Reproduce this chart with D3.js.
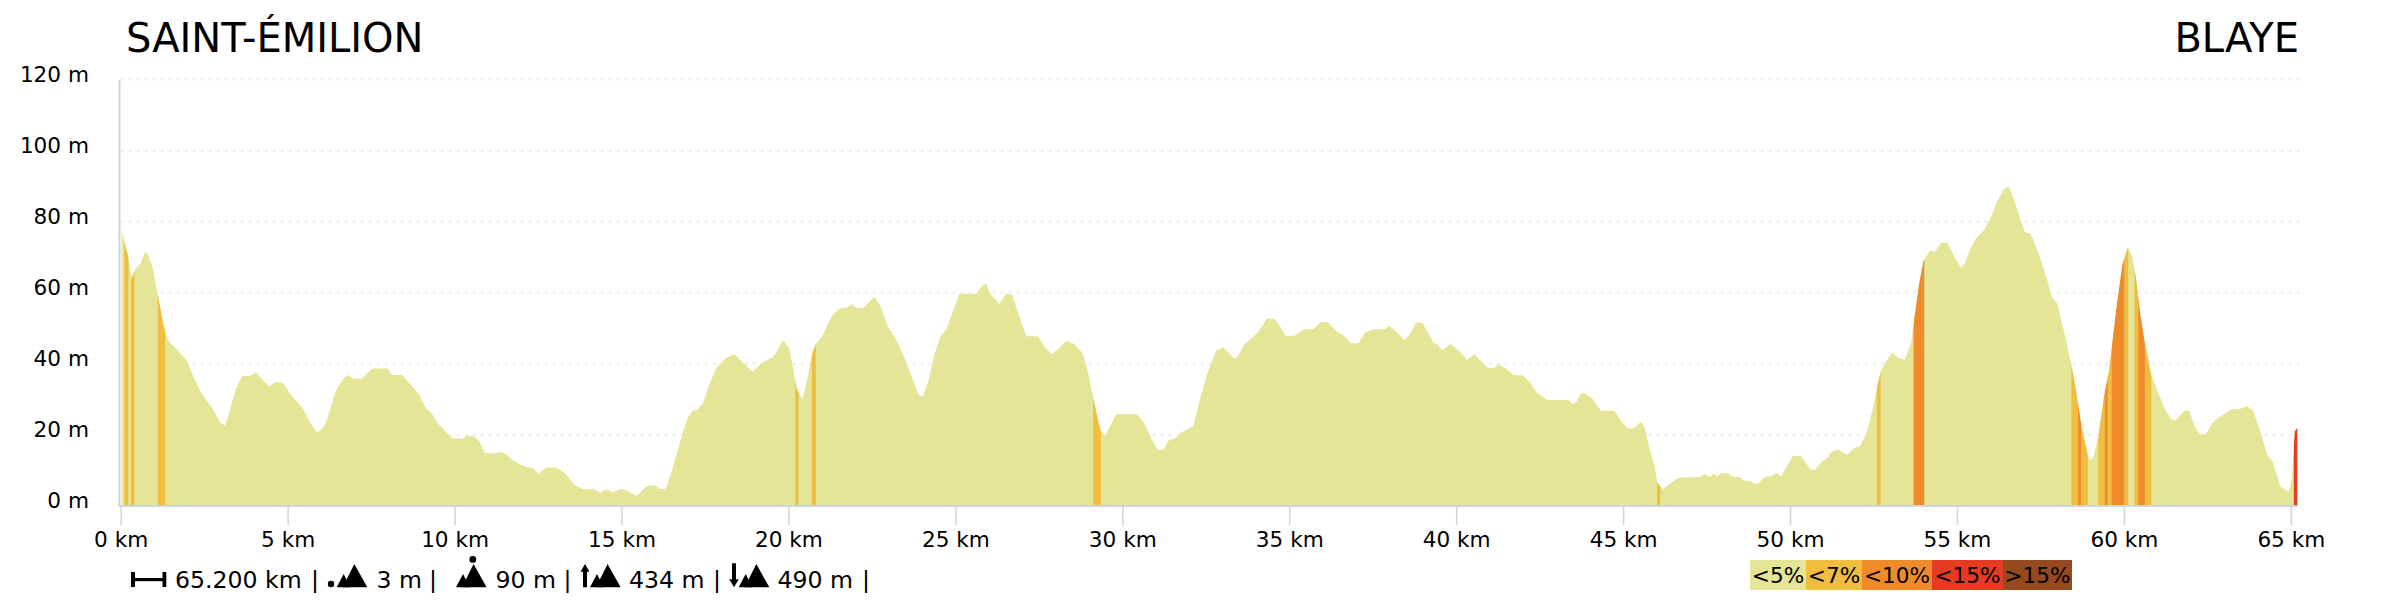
<!DOCTYPE html>
<html>
<head>
<meta charset="utf-8">
<script src="https://d3js.org/d3.v7.min.js"></script>
<style>
	html, body { margin: 0; padding: 0; background: #fff; }
	svg { display: block; font-family: "DejaVu Sans", sans-serif; }
</style>
</head>
<body>
<svg id="profile" width="2400" height="600"></svg>
<script>
var startName = 'SAINT-ÉMILION'
var endName = 'BLAYE'

var kms = [
	0.03,0.16,0.23,0.33,0.40,0.50,0.58,0.73,0.83,0.96,1.13,1.28,1.41,1.58,1.78,1.98,2.18,2.43,2.73,2.98,
	3.13,3.28,3.43,3.63,3.88,4.05,4.28,4.46,4.63,4.86,5.08,5.46,5.68,5.88,6.03,6.15,6.43,6.58,6.78,6.98,
	7.23,7.53,7.98,8.13,8.43,8.93,9.13,9.33,9.48,9.93,10.28,10.33,10.58,10.75,10.90,11.23,11.36,11.53,11.76,12.05,
	12.37,12.51,12.74,13.02,13.29,13.60,13.83,14.17,14.36,14.55,14.74,14.94,15.09,15.26,15.46,15.77,16.00,16.15,16.31,16.46,
	16.63,16.84,16.98,17.13,17.26,17.44,17.61,17.84,18.12,18.38,18.64,18.93,19.21,19.56,19.84,20.02,20.13,20.25,20.33,20.42,
	20.59,20.70,20.82,21.01,21.16,21.33,21.54,21.74,21.89,22.05,22.25,22.57,22.77,22.96,23.23,23.46,23.69,23.91,24.03,24.20,
	24.37,24.55,24.72,24.95,25.12,25.63,25.75,25.92,26.04,26.32,26.52,26.70,26.90,27.12,27.47,27.70,27.89,28.10,28.33,28.56,
	28.81,28.96,29.13,29.34,29.48,29.63,29.82,30.43,30.66,30.89,31.06,31.23,31.40,31.58,31.75,31.92,32.13,32.32,32.53,32.81,
	33.01,33.18,33.35,33.44,33.64,34.04,34.33,34.56,34.73,34.90,35.16,35.42,35.74,35.93,36.16,36.45,36.62,36.85,37.08,37.25,
	37.48,37.88,38.00,38.23,38.46,38.63,38.80,39.00,39.32,39.43,39.58,39.83,40.12,40.32,40.54,40.94,41.15,41.26,41.49,41.72,
	42.01,42.24,42.41,42.73,43.35,43.50,43.61,43.73,43.84,44.07,44.34,44.74,44.93,45.14,45.33,45.53,45.64,45.79,45.94,46.03,
	46.11,46.19,46.42,46.65,47.31,47.44,47.60,47.71,47.82,47.95,48.14,48.27,48.51,48.61,48.81,48.94,49.05,49.25,49.42,49.58,
	49.74,49.92,50.08,50.32,50.49,50.63,50.75,50.95,51.12,51.23,51.43,51.72,51.92,52.10,52.28,52.46,52.62,52.73,52.86,53.06,
	53.26,53.44,53.62,53.73,53.86,54.00,54.20,54.33,54.53,54.71,54.93,55.11,55.23,55.40,55.58,55.80,56.00,56.20,56.40,56.54,
	56.70,57.03,57.21,57.41,57.68,57.84,58.01,58.21,58.41,58.54,58.74,58.92,58.97,59.08,59.24,59.41,59.55,59.75,59.95,60.12,
	60.24,60.35,60.48,60.64,60.82,61.02,61.22,61.42,61.55,61.82,61.95,62.15,62.29,62.45,62.69,63.02,63.23,63.49,63.69,63.87,
	64.09,64.30,64.46,64.70,64.94,65.03,65.12,65.20
]
var elevations = [
	77.8,72.4,70,63.8,66,67.5,68,71.6,70.5,67,58.4,50.9,46.8,45,43,41,36.3,31.5,27.7,23.4,
	22.6,27.2,32.5,36.6,36.6,37.6,35.2,33.6,34.9,34.7,31.5,27.4,23.4,20.7,21.6,23.4,32,34.7,36.9,35.8,
	35.8,38.7,38.7,36.9,36.9,31.5,27.7,25.9,23.4,19,19,19.8,19.6,18,15,14.8,15.3,14.6,12.8,11.3,
	10.6,9,10.8,10.8,9.4,5.9,4.8,4.7,3.8,4.7,3.8,4.7,4.7,3.9,2.9,5.7,5.8,4.8,4.8,8.3,
	13.9,20.9,24.7,26.8,27,28.9,33.6,38.9,41.6,42.8,40.3,37.8,40.3,42,46.7,44.4,39.2,33.1,31.7,29.8,
	36.9,42.5,45.6,47.7,50.9,53.8,55.6,55.9,56.8,55.8,55.8,58.9,56.1,50.9,46.7,42,36.4,31.2,30.8,35.5,
	42.5,47.7,49.5,55.2,59.7,59.7,61.5,62.7,59.8,56.8,59.7,59.4,53.8,47.8,47.8,44.4,42.8,44.4,46.5,45.6,
	43,38.3,30.3,21.4,19.7,22.3,25.9,25.9,23.3,18.6,15.8,15.8,18.6,19,20.7,21.4,22.6,29.8,36.9,43.7,
	44.6,43.2,41.6,41.8,45.3,48.6,52.7,52.7,50.5,47.8,47.9,49.7,49.8,51.7,51.7,48.9,48.1,45.8,45.8,48.6,
	49.7,49.8,50.7,48.8,46.7,48.6,51.7,51.4,46,45.6,43.9,45.5,43.4,41.1,42.7,38.9,38.9,39.9,38.7,36.9,
	36.7,34.5,31.9,29.8,29.8,28.7,29.4,31.7,31.7,30.3,26.8,26.8,24,21.9,21.9,23.7,22.3,16.2,11.5,6.4,
	5.6,4.7,6.4,7.9,8.2,9.1,8.2,9.1,8.3,9.3,9.3,8.3,8.1,7.2,7,6.2,6.3,8.2,8.4,9.3,
	8.4,11.4,14.1,14.1,11.9,10.2,10.2,12.6,13.5,15.2,15.9,14.4,16.3,16.8,20.4,26.5,34,38.2,40.5,43.2,
	41.5,41.2,45.7,53.2,62.1,69.1,72,71.5,74.1,74.1,70.1,67.1,68.2,72.4,75.4,77.6,80.9,85.6,89.1,90,
	86.5,77.1,76.6,72,64.4,58.8,56.9,49,40.5,34,21.8,14.3,13.1,13.5,19.9,31.1,37.7,53.7,67.7,72.9,
	70.5,64.9,54.6,45.2,36.8,32.1,27.4,24.4,24.1,26.9,26.9,21.8,20.1,20.2,23.9,26,27.2,27.4,28.1,26.9,
	20.8,14.4,12.4,5.3,4.1,7.7,21,22
]

// steep stretches of the climb, index into slopeLabels
var bandStarts = [0.11,0.31,1.11,20.21,20.70,29.13,46.02,52.60,53.70,58.43,58.62,58.73,59.23,59.42,59.52,59.63,60.02,60.32,60.43,60.63,65.09]
var bandEnds   = [0.23,0.41,1.33,20.30,20.82,29.36,46.11,52.71,54.02,58.62,58.73,58.92,59.42,59.52,59.63,60.02,60.13,60.43,60.63,60.82,65.20]
var bandClass  = [1,1,1,1,1,1,1,1,2,1,2,1,1,2,1,2,1,1,2,1,3]

var slopeLabels = ['<5%','<7%','<10%','<15%','>15%']
var slopeColors = ['#e4e596','#f1bd3e','#ef8c29','#e63b22','#96491f']

var yTicks = [0,20,40,60,80,100,120]
var xTicks = [0,5,10,15,20,25,30,35,40,45,50,55,60,65]
var statLabels = ['65.200 km','3 m','90 m','434 m','490 m']
var statX = [175,376.5,495.5,629,777.5]
var pipeX = [315,433,567.5,717,866]

var axisColor = '#ccd6dc'
var svg = d3.select('#profile')

var x = d3.scaleLinear().domain([0,65.2]).range([120.7,2297.5])
var y = d3.scaleLinear().domain([0,120]).range([506,79.6])

var profile = kms.map(function(k,i){
	return {km: k, ele: elevations[i]}
})
var area = d3.area()
	.x(function(d){ return x(d.km) })
	.y0(y(0))
	.y1(function(d){ return y(d.ele) })

// titles
svg.append('text').attr('x',126).attr('y',52).style('font-size','40px').text(startName)
svg.append('text').attr('x',2299).attr('y',52).style('font-size','40px').style('text-anchor','end').text(endName)

// grid
svg.append('g').selectAll('line')
	.data(yTicks.slice(1))
	.join('line')
	.attr('x1',x.range()[0])
	.attr('x2',2300)
	.attr('y1',function(d){ return y(d) })
	.attr('y2',function(d){ return y(d) })
	.attr('stroke','#eeeeee')
	.attr('stroke-width',2.5)
	.attr('stroke-dasharray','3,5')

// profile and slope bands clipped to it
svg.append('clipPath').attr('id','profile-clip')
	.append('path').datum(profile).attr('d',area)
svg.append('path').datum(profile).attr('d',area).attr('fill',slopeColors[0])
svg.append('g').attr('clip-path','url(#profile-clip)')
	.selectAll('rect')
	.data(bandStarts)
	.join('rect')
	.attr('x',function(d){ return x(d) })
	.attr('y',y.range()[1])
	.attr('width',function(d,i){ return x(bandEnds[i]) - x(d) })
	.attr('height',y(0) - y.range()[1])
	.attr('fill',function(d,i){ return slopeColors[bandClass[i]] })

// axes
var xAxis = svg.append('g')
	.attr('transform','translate(0,' + y(0) + ')')
	.call(d3.axisBottom(x).tickValues(xTicks).tickSize(19).tickPadding(7).tickFormat(function(d){ return d + ' km' }))
xAxis.select('.domain').attr('stroke',axisColor).attr('stroke-width',2).attr('d','M119,0H2297')
xAxis.selectAll('.tick line').attr('stroke',axisColor).attr('stroke-width',1.5)
xAxis.selectAll('text').attr('fill','#000').style('font-size','21.6px').style('font-family','"DejaVu Sans"')

var yAxis = svg.append('g')
	.attr('transform','translate(119,0)')
	.call(d3.axisLeft(y).tickValues(yTicks).tickSize(0).tickPadding(30).tickFormat(function(d){ return d + ' m' }))
yAxis.select('.domain').attr('stroke',axisColor).attr('stroke-width',2)
yAxis.selectAll('text').attr('fill','#000').attr('dy','0.08em').style('font-size','21.6px').style('font-family','"DejaVu Sans"')

// summary line
var stats = svg.append('g').style('font-size','23.6px')
stats.selectAll('text.stat')
	.data(statLabels)
	.join('text')
	.attr('class','stat')
	.attr('x',function(d,i){ return statX[i] })
	.attr('y',587.5)
	.text(function(d){ return d })
stats.selectAll('text.pipe')
	.data(pipeX)
	.join('text')
	.attr('class','pipe')
	.attr('x',function(d){ return d })
	.attr('y',587.5)
	.style('text-anchor','middle')
	.text('|')

// little mountain icons, base at 587.3
var icons = svg.append('g').attr('fill','#000')
function mountains(x0) {
	icons.append('path').attr('d','M' + x0 + ',587.3L' + (x0+7) + ',574L' + (x0+13.6) + ',587.3Z')
	icons.append('path').attr('d','M' + (x0+6) + ',587.3L' + (x0+17.6) + ',564L' + (x0+30.6) + ',587.3Z')
}
icons.append('rect').attr('x',131).attr('y',572).attr('width',4).attr('height',15)
icons.append('rect').attr('x',134).attr('y',578).attr('width',29).attr('height',3.2)
icons.append('rect').attr('x',162.5).attr('y',572).attr('width',3.8).attr('height',15)
icons.append('circle').attr('cx',331).attr('cy',584).attr('r',3.2)
mountains(336.7)
mountains(456)
icons.append('circle').attr('cx',472.8).attr('cy',559.4).attr('r',3.4)
icons.append('path').attr('d','M585,564L589.5,571.7H587V587.3H583V571.7H580.5Z')
mountains(590)
icons.append('path').attr('d','M734,587.3L729.3,579.3H732V563.3H736V579.3H738.7Z')
mountains(738.7)

// slope legend
var legendEdges = d3.scaleOrdinal().domain(slopeLabels).range([1750,1806,1862,1932,2003])
var legendWidths = d3.scaleOrdinal().domain(slopeLabels).range([56,56,70,71,69])
var legend = svg.append('g').selectAll('g')
	.data(slopeLabels)
	.join('g')
	.attr('transform',function(d){ return 'translate(' + legendEdges(d) + ',560)' })
legend.append('rect')
	.attr('width',function(d){ return legendWidths(d) })
	.attr('height',30)
	.attr('fill',function(d,i){ return slopeColors[i] })
legend.append('text')
	.attr('x',function(d){ return legendWidths(d)/2 })
	.attr('y',23)
	.style('font-size','21.6px')
	.style('text-anchor','middle')
	.text(function(d){ return d })
</script>
</body>
</html>
